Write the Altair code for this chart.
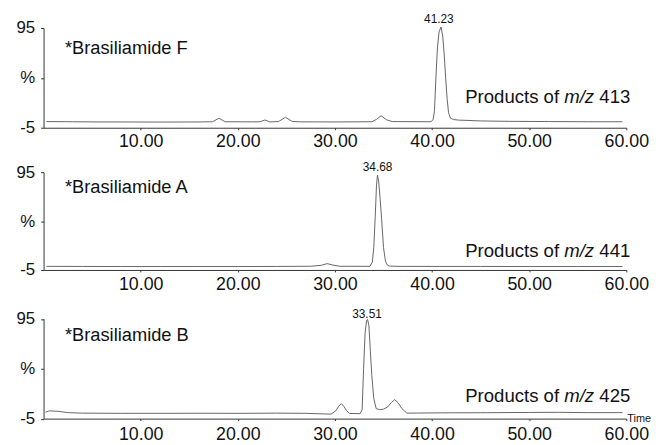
import altair as alt
import pandas as pd

# ---------------- data ----------------
# Panel 1: Brasiliamide F, products of m/z 413
f_time = [0.3, 3, 5.5, 8, 12, 16, 17.4, 18.05, 18.7, 21.5, 22.3, 22.8, 23.3, 24.2, 24.9,
          25.6, 26.5, 30, 33.8, 34.3, 34.75, 35.3, 35.9, 39.7, 39.9, 40.1, 40.25, 40.4,
          40.55, 40.72, 40.92, 41.1, 41.25, 41.4, 41.55, 41.7, 41.9, 42.2, 42.8, 43.5,
          45, 48, 52, 56, 59.6]
f_int = [1.2, 1.0, 0.8, 0.8, 0.7, 0.8, 1.0, 4.5, 1.0, 0.9, 1.0, 2.8, 0.8, 1.2, 5.5,
         1.3, 0.9, 0.8, 1.0, 3.5, 7.0, 3.0, 1.2, 1.0, 1.2, 3, 12, 46,
         75, 91, 96, 87, 68, 45, 24, 10, 4.5, 3.2, 2.6, 2.4,
         1.8, 1.4, 1.2, 1.0, 1.0]

# Panel 2: Brasiliamide A, products of m/z 441
a_time = [0.3, 4, 8, 12, 16, 20, 24, 27.5, 28.6, 29.2, 29.8, 30.5, 33.6, 33.85, 34.0,
          34.15, 34.28, 34.38, 34.5, 34.65, 34.8, 35.0, 35.2, 35.4, 35.6, 36.5, 40, 45,
          50, 55, 59.6]
a_int = [-1.3, -1.4, -1.5, -1.5, -1.5, -1.5, -1.4, -1.2, -0.2, 1.5, 0.0, -1.2, -1.3, 3, 18,
         50, 82, 92, 86, 68, 48, 18, 4, 0, -1.0, -1.3, -1.4, -1.4,
         -1.5, -1.5, -1.5]

# Panel 3: Brasiliamide B, products of m/z 425
b_time = [0.2, 0.6, 1.5, 2.5, 4, 8, 12, 16, 20, 24, 27, 29.6, 30.1, 30.4, 30.65, 30.9,
          31.2, 31.5, 32.6, 32.8, 32.95, 33.1, 33.25, 33.36, 33.5, 33.65, 33.8, 34.0,
          34.25, 34.6, 35.0, 35.4, 35.8, 36.15, 36.5, 36.9, 37.4, 38.5, 41, 45, 50, 53,
          56, 59.6]
b_int = [1.5, 2.8, 2.3, 1.0, 0.5, 0.3, 0.3, 0.4, 0.3, 0.5, 0.3, -0.5, 3, 7.5, 10, 7.5,
         3, 0.2, 0.0, 4, 45, 80, 93, 94.5, 88, 62, 38, 15,
         5, 4, 4.5, 6.5, 11, 14, 11, 5, 0.5, 0.6, 0.8, 0.9, 1.2, 1.3,
         1.0, 1.0]

compound_names = ["*Brasiliamide F", "*Brasiliamide A", "*Brasiliamide B"]
precursor_mz = ["413", "441", "425"]
peak_labels = ["41.23", "34.68", "33.51"]

x_ticks = [10, 20, 30, 40, 50, 60]
y_ticks = [-5, 45, 95]

# ---------------- layout / style ----------------
FONT = "Liberation Sans"
INK = "#111111"
TRACE = "#666666"
AXIS = "#333333"

panel_heights = [101, 99, 101]
top_shift = [0, 0, 4.5]          # empty pixels above the 95 line inside a panel
x_label_pad = [3.5, 3.5, 5.5]
name_pos = [(2.2, 69), (2.2, 74), (2.2, 73.3)]          # (time, value) baseline
prod_pos = [19.8, 8.3, 11.3]                             # value of text baseline
peak_lbl_pos = [(40.7, 100.2), (34.39, 96), (33.3, 95.8)]

PROD_FS = 18.8
PROD_DX = 4
NUM_W = (3 * 0.556 + 0.278) * PROD_FS   # "413" plus a space
MZ_W = (0.833 + 0.278 + 0.5 + 0.278) * PROD_FS  # "m/z" plus a space


def make_panel(times, vals, idx, show_time):
    h = panel_heights[idx] + top_shift[idx]
    x = alt.X(
        "t:Q",
        scale=alt.Scale(domain=[0, 60], nice=False, zero=False),
        axis=alt.Axis(values=x_ticks, format=".2f", title=None, labelFontSize=18,
                      labelFont=FONT, labelColor=INK, tickSize=2,
                      labelPadding=x_label_pad[idx],
                      domainColor=AXIS, tickColor=AXIS, grid=False, labelFlush=False),
    )
    y = alt.Y(
        "v:Q",
        scale=alt.Scale(domain=[-5, 95], nice=False, zero=False,
                        range=[h, top_shift[idx]]),
        axis=alt.Axis(values=y_ticks,
                      labelExpr="datum.value == 45 ? '%' : toString(datum.value)",
                      title=None, labelFontSize=17, labelFont=FONT, labelColor=INK,
                      tickSize=3, labelPadding=6, domainColor=AXIS, tickColor=AXIS,
                      grid=False),
    )
    df = pd.DataFrame({"t": times, "v": vals})
    line = alt.Chart(df).mark_line(color=TRACE, strokeWidth=1, clip=False).encode(x=x, y=y)

    nm = pd.DataFrame({"t": [name_pos[idx][0]], "v": [name_pos[idx][1]],
                       "s": [compound_names[idx]]})
    name = alt.Chart(nm).mark_text(align="left", baseline="alphabetic", font=FONT,
                                   fontSize=18.5, color=INK).encode(x=x, y=y, text="s:N")

    pv = prod_pos[idx]
    num = alt.Chart(pd.DataFrame({"t": [60], "v": [pv], "s": [precursor_mz[idx]]})).mark_text(
        align="right", baseline="alphabetic", font=FONT, fontSize=PROD_FS, color=INK,
        dx=PROD_DX
    ).encode(x=x, y=y, text="s:N")
    mz = alt.Chart(pd.DataFrame({"t": [60], "v": [pv], "s": ["m/z"]})).mark_text(
        align="right", baseline="alphabetic", font=FONT, fontSize=PROD_FS, color=INK,
        fontStyle="italic", dx=PROD_DX - NUM_W
    ).encode(x=x, y=y, text="s:N")
    prod = alt.Chart(pd.DataFrame({"t": [60], "v": [pv], "s": ["Products of"]})).mark_text(
        align="right", baseline="alphabetic", font=FONT, fontSize=PROD_FS, color=INK,
        dx=PROD_DX - (NUM_W + MZ_W)
    ).encode(x=x, y=y, text="s:N")

    pk = pd.DataFrame({"t": [peak_lbl_pos[idx][0]], "v": [peak_lbl_pos[idx][1]],
                       "s": [peak_labels[idx]]})
    pklbl = alt.Chart(pk).mark_text(align="center", baseline="alphabetic", font=FONT,
                                    fontSize=12, color=INK).encode(x=x, y=y, text="s:N")

    layers = [line, name, prod, mz, num, pklbl]
    if show_time:
        tm = alt.Chart(pd.DataFrame({"t": [60], "v": [-5], "s": ["Time"]})).mark_text(
            align="left", baseline="middle", font=FONT, fontSize=11, color=INK, dx=1
        ).encode(x=x, y=y, text="s:N")
        layers.append(tm)
    return alt.layer(*layers).properties(width=590, height=h)


p1 = make_panel(f_time, f_int, 0, False)
p2 = make_panel(a_time, a_int, 1, False)
p3 = make_panel(b_time, b_int, 2, True)

chart = alt.vconcat(p1, p2, p3, spacing=45, bounds="flush").properties(
    padding={"left": 8, "top": 1.5, "right": 0, "bottom": 0},
    background="white",
).configure_view(stroke=None)

chart.save("out.html", embed_options={"renderer": "svg", "actions": False})
